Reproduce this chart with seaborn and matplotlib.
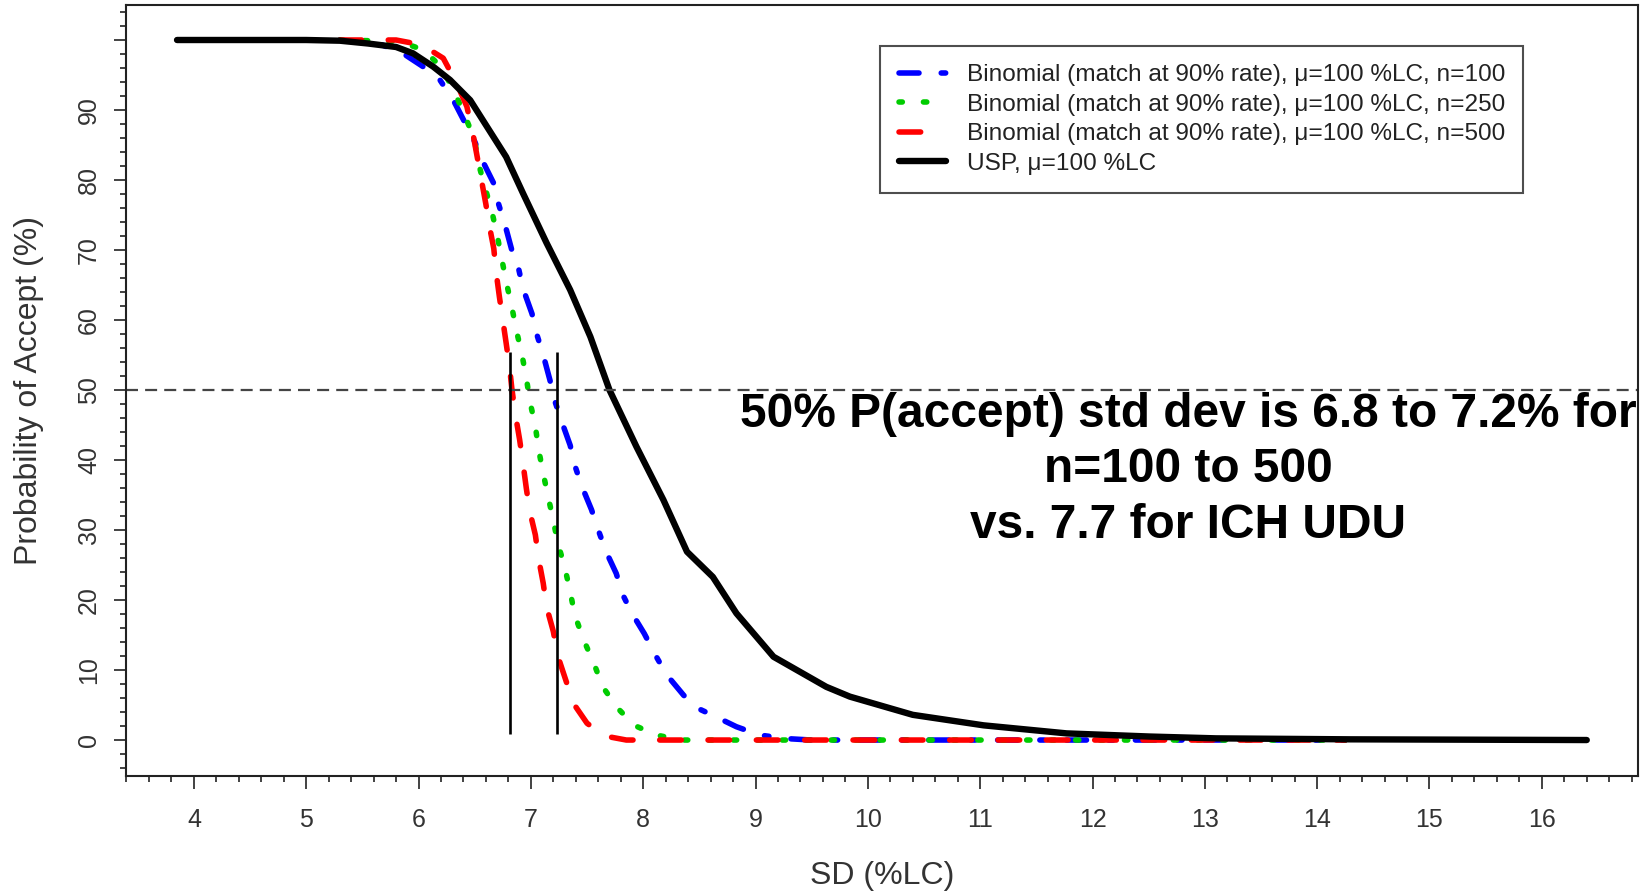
import matplotlib
matplotlib.use("Agg")
import matplotlib.pyplot as plt
from matplotlib.ticker import MultipleLocator
import seaborn as sns
import numpy as np
import pandas as pd

# probability of acceptance vs SD
usp_sd = [3.85, 5.0, 5.3, 5.55, 5.8, 5.95, 6.13, 6.28, 6.46, 6.61, 6.78, 6.93,
          7.14, 7.35, 7.53, 7.70, 7.94, 8.18, 8.39, 8.62, 8.83, 9.16, 9.63,
          9.84, 10.4, 11.03, 11.77, 12.51, 13.1, 14.3, 16.4]
usp_p = [100, 100, 99.9, 99.5, 99.0, 98.1, 96.2, 94.3, 91.4, 87.6, 83.3, 78.1,
         71.0, 64.3, 57.6, 50.0, 41.9, 34.3, 26.9, 23.3, 18.1, 11.9, 7.6,
         6.2, 3.6, 2.1, 0.95, 0.5, 0.24, 0.1, 0.0]

n100_sd = [5.3, 5.66, 5.86, 6.04, 6.19, 6.31, 6.40, 6.50, 6.58, 6.67, 6.71, 6.77,
           6.83, 6.89, 6.93, 7.01, 7.05, 7.11, 7.17, 7.21, 7.27, 7.35, 7.39,
           7.45, 7.54, 7.60, 7.67, 7.76, 7.82, 7.90, 8.01, 8.11, 8.21, 8.36,
           8.49, 8.65, 8.83, 9.04, 9.28, 9.5, 14.25]
n100_p = [100, 99.4, 98.1, 96.2, 94.3, 91.4, 88.6, 85.5, 82.4, 79.5, 76.7, 73.6,
          70.0, 67.4, 64.5, 60.9, 58.1, 55.0, 51.4, 48.6, 45.7, 42.1, 39.3,
          36.4, 32.9, 30.0, 26.9, 23.8, 20.7, 18.1, 15.2, 12.1, 9.3, 6.4,
          4.5, 3.3, 1.9, 0.7, 0.2, 0.0, 0.0]

n250_sd = [5.3, 5.83, 6.04, 6.2, 6.31, 6.41, 6.5, 6.53, 6.59, 6.65, 6.70, 6.74,
           6.78, 6.83, 6.87, 6.92, 6.96, 6.99, 7.04, 7.07, 7.11, 7.15, 7.2,
           7.24, 7.30, 7.35, 7.39, 7.47, 7.56, 7.64, 7.77, 7.92, 8.12, 8.34, 14.25]
n250_p = [100, 99.8, 98.6, 96.2, 92.9, 89.3, 85.7, 82.6, 79.0, 75.7, 72.1, 68.8,
          65.5, 61.9, 58.6, 55.1, 51.7, 48.5, 44.8, 41.4, 38.1, 35.0, 31.4,
          28.1, 24.8, 21.2, 17.9, 14.3, 11.0, 7.6, 4.6, 2.1, 0.7, 0.0, 0.0]

n500_sd = [5.3, 5.8, 6.03, 6.22, 6.34, 6.43, 6.48, 6.52, 6.56, 6.60, 6.63, 6.67,
           6.69, 6.72, 6.75, 6.78, 6.81, 6.83, 6.86, 6.90, 6.93, 6.96, 6.99,
           7.04, 7.07, 7.11, 7.14, 7.20, 7.24, 7.31, 7.38, 7.50, 7.65, 7.85, 14.25]
n500_p = [100, 100, 99.3, 97.4, 93.8, 90.5, 87.0, 83.5, 80.0, 76.5, 73.5, 70.2,
          66.9, 63.3, 60.0, 56.7, 53.3, 50.3, 46.7, 42.9, 39.5, 35.9, 32.7,
          29.3, 25.8, 22.4, 19.0, 15.5, 12.0, 8.6, 5.2, 2.4, 0.6, 0.0, 0.0]

labels = ["Binomial (match at 90% rate), \u03bc=100 %LC, n=100",
          "Binomial (match at 90% rate), \u03bc=100 %LC, n=250",
          "Binomial (match at 90% rate), \u03bc=100 %LC, n=500",
          "USP, \u03bc=100 %LC"]
colors = ["#0000ff", "#00cc00", "#ff0000", "#000000"]

x_ticks = list(range(4, 17))
y_ticks = list(range(0, 101, 10))
y_ticklabels = [str(v) for v in y_ticks[:-1]] + [""]
cross_sd = [6.81, 7.23]
note = "50% P(accept) std dev is 6.8 to 7.2% for\nn=100 to 500\nvs. 7.7 for ICH UDU"

sns.set_style("white")
plt.rcParams["font.family"] = ["Liberation Sans", "DejaVu Sans"]
txt = "#333333"

fig = plt.figure(figsize=(16.44, 8.93), dpi=100)
ax = fig.add_axes([0.0766, 0.131, 0.92, 0.8634])

styles = [(0, (3.6, 4.0, 0.8, 4.0)), (0, (0.6, 3.8)), (0, (3.9, 4.8)), "-"]
widths = [4, 4, 4, 4.6]
series = [(n100_sd, n100_p), (n250_sd, n250_p), (n500_sd, n500_p), (usp_sd, usp_p)]
for (xs, ys), lab, col, ls, lw in zip(series, labels, colors, styles, widths):
    sns.lineplot(x=xs, y=ys, ax=ax, color=col, lw=lw, linestyle=ls, label=lab,
                 sort=False, estimator=None, dash_capstyle="round",
                 solid_capstyle="round", solid_joinstyle="round")

ax.axhline(50, color="#444444", lw=1.6, dashes=(5.4, 3.2))
ax.vlines(cross_sd, 0.8, 55.5, color="black", lw=1.9)

ax.set_xlim(3.395, 16.86)
ax.set_ylim(-5.14, 105)
ax.set_xticks(x_ticks)
ax.xaxis.set_minor_locator(MultipleLocator(0.2))
ax.set_yticks(y_ticks)
ax.set_yticklabels(y_ticklabels)
ax.yaxis.set_minor_locator(MultipleLocator(2))
ax.tick_params(which="both", direction="out", color="#222222", width=1.2,
               bottom=True, left=True, top=False, right=False)
ax.tick_params(which="major", length=9)
ax.tick_params(which="minor", length=4.5)
ax.tick_params(axis="x", labelsize=18, labelcolor=txt, pad=14)
ax.tick_params(axis="y", labelsize=18, labelcolor=txt, pad=9, labelrotation=90)
for lbl in ax.get_yticklabels():
    lbl.set_va("center")

for sp in ax.spines.values():
    sp.set_color("#222222")
    sp.set_linewidth(1.5)

ax.set_xlabel("SD (%LC)", fontsize=23, color=txt, va="center")
ax.set_ylabel("Probability of Accept (%)", fontsize=23, color=txt, va="center")
ax.xaxis.set_label_coords(0.5, -0.13)
ax.yaxis.set_label_coords(-0.064, 0.5)

ax.text(12.85, 38.6, note, ha="center", va="center", multialignment="center",
        fontsize=34.5, fontweight="bold", linespacing=1.3, color="black",
        family=["Liberation Sans Narrow", "Liberation Sans", "DejaVu Sans"])

leg = ax.legend(loc="upper right", bbox_to_anchor=(0.924, 0.947),
                borderaxespad=0, fontsize=17.6, frameon=True, fancybox=False,
                handlelength=1.93, handletextpad=0.86, labelspacing=0.3,
                borderpad=0.75)
leg.get_frame().set_edgecolor("#222222")
leg.get_frame().set_linewidth(1.5)
for t in leg.get_texts():
    t.set_color("#222222")

fig.savefig("out.png", dpi=100)
